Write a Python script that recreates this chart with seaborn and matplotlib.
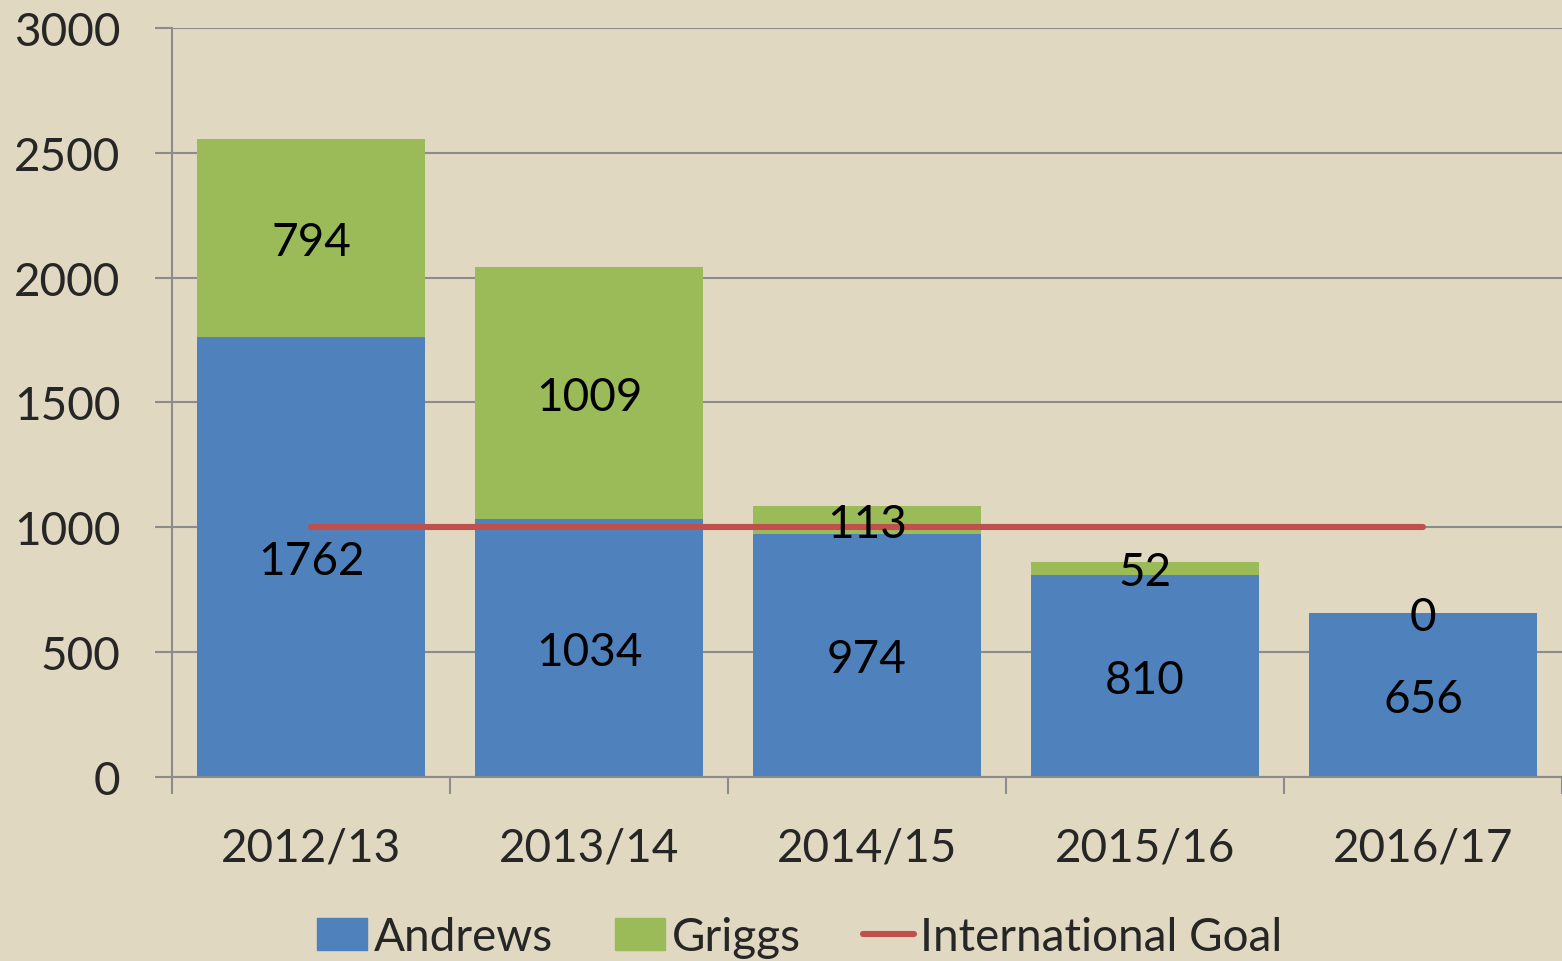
import matplotlib
matplotlib.use("Agg")
import matplotlib.pyplot as plt
import matplotlib.patches as mpatches
import matplotlib.lines as mlines
import numpy as np
import pandas as pd
import seaborn as sns

years = ["2012/13", "2013/14", "2014/15", "2015/16", "2016/17"]
andrews = [1762, 1034, 974, 810, 656]
griggs = [794, 1009, 113, 52, 0]
goal = [1000, 1000, 1000, 1000, 1000]

BG = "#E0D8C0"
BLUE = "#4F81BD"
GREEN = "#9BBB59"
RED = "#C0504D"
GRID = "#8C8C8C"

sns.set_theme(style="white")
plt.rcParams["font.family"] = ["Lato", "DejaVu Sans"]

df = pd.DataFrame({"year": years, "andrews": andrews, "griggs": griggs})
df["total"] = df["andrews"] + df["griggs"]

fig = plt.figure(figsize=(15.62, 9.62), dpi=100, facecolor=BG)
ax = fig.add_axes([0.1101, 0.1913, 0.8899, 0.7786])
ax.set_facecolor(BG)

# stacked bars: draw total first (green), then Andrews on top of it (blue)
sns.barplot(data=df, x="year", y="total", color=GREEN, width=0.82,
            saturation=1, linewidth=0, ax=ax, zorder=2)
sns.barplot(data=df, x="year", y="andrews", color=BLUE, width=0.82,
            saturation=1, linewidth=0, ax=ax, zorder=2)

ax.plot(range(len(years)), goal, color=RED, lw=4.4, solid_capstyle="round", zorder=3)

fs = 33
for i in range(len(years)):
    ax.text(i, andrews[i] / 2, str(andrews[i]), ha="center", va="center_baseline",
            fontsize=fs, color="black", zorder=4)
    ax.text(i, andrews[i] + griggs[i] / 2, str(griggs[i]), ha="center",
            va="center_baseline", fontsize=fs, color="black", zorder=4)

ax.set_ylim(0, 3000)
ax.set_xlim(-0.5, len(years) - 0.5)
ax.set_yticks(np.arange(0, 3001, 500))
ax.yaxis.grid(True, color=GRID, lw=1.5, zorder=0)
ax.set_axisbelow(True)
ax.set_xlabel("")
ax.set_ylabel("")

for s in ["top", "right"]:
    ax.spines[s].set_visible(False)
for s in ["left", "bottom"]:
    ax.spines[s].set_color(GRID)
    ax.spines[s].set_linewidth(1.5)

ax.tick_params(axis="y", direction="out", length=12, width=1.5, color=GRID,
               pad=25, labelsize=fs, left=True)
ax.tick_params(axis="x", which="major", length=0, pad=36, labelsize=fs)
ax.set_xticks(np.arange(-0.5, len(years)), minor=True)
ax.tick_params(axis="x", which="minor", direction="out", length=12, width=1.5,
               color=GRID, bottom=True)

handles = [
    mpatches.Patch(color=BLUE, label="Andrews"),
    mpatches.Patch(color=GREEN, label="Griggs"),
    mlines.Line2D([], [], color=RED, lw=4.4, label="International Goal"),
]
fig.legend(handles=handles, loc="center", bbox_to_anchor=(0.512, 0.025),
           ncol=3, frameon=False, fontsize=fs, handlelength=1.1,
           handleheight=0.7, handletextpad=0.15, columnspacing=1.35,
           borderaxespad=0)

fig.savefig("out.png", dpi=100, facecolor=BG)
